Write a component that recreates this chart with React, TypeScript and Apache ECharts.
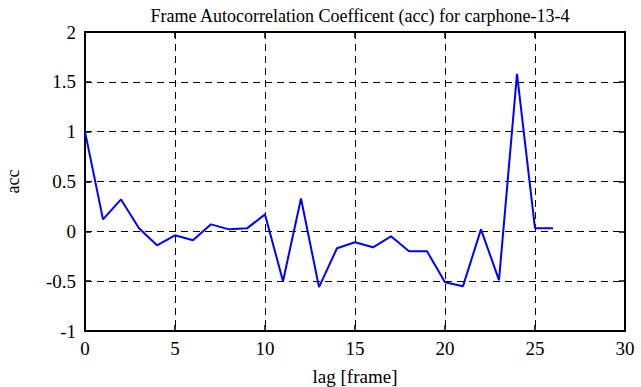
import React, { useEffect, useRef } from "react";
import * as echarts from "echarts";

const lags = [0, 1, 2, 3, 4, 5, 6, 7, 8, 9, 10, 11, 12, 13, 14, 15, 16, 17, 18, 19, 20, 21, 22, 23, 24, 25, 26];
const accValues = [1.0, 0.12, 0.32, 0.03, -0.14, -0.04, -0.09, 0.07, 0.02, 0.03, 0.17, -0.5, 0.33, -0.56, -0.17, -0.11, -0.16, -0.05, -0.2, -0.2, -0.51, -0.55, 0.02, -0.49, 1.58, 0.03, 0.03];
const titleText = "Frame Autocorrelation Coefficent (acc) for carphone-13-4";
const xName = "lag [frame]";
const yName = "acc";

const FONT = "Liberation Serif";

export default function App() {
  const ref = useRef<HTMLDivElement>(null);
  useEffect(() => {
    if (!ref.current) return;
    const chart = echarts.init(ref.current, undefined, { renderer: "svg" });
    const dash = { color: "#000", width: 1, type: [7, 5] as number[] };
    const axisLine = { show: true, onZero: false, lineStyle: { color: "#000", width: 2 } };
    const tick = { show: true, inside: true, length: 6, lineStyle: { color: "#000", width: 1.5 } };
    const labelStyle = { fontFamily: FONT, fontSize: 19, fontWeight: "normal", color: "#000" };
    chart.setOption({
      animation: false,
      backgroundColor: "#fff",
      textStyle: { fontFamily: FONT, fontWeight: "normal" },
      title: {
        text: titleText,
        left: 355,
        textAlign: "center",
        top: 2,
        textStyle: { fontFamily: FONT, fontSize: 18, fontWeight: "normal", color: "#000" },
      },
      grid: { left: 85, right: 16, top: 32, bottom: 56, containLabel: false, outerBoundsMode: "none" },
      xAxis: [
        {
          type: "value",
          min: 0,
          max: 30,
          interval: 5,
          position: "bottom",
          name: xName,
          nameLocation: "middle",
          nameGap: 36,
          nameTextStyle: { fontFamily: FONT, fontSize: 19, color: "#000" },
          axisLine,
          axisTick: tick,
          axisLabel: { ...labelStyle, margin: 8 },
          splitLine: { show: true, lineStyle: dash },
        },
        {
          type: "value",
          min: 0,
          max: 30,
          interval: 5,
          position: "top",
          axisLine,
          axisTick: tick,
          axisLabel: { show: false },
          splitLine: { show: false },
        },
      ],
      yAxis: [
        {
          type: "value",
          min: -1,
          max: 2,
          interval: 0.5,
          position: "left",
          name: yName,
          nameLocation: "middle",
          nameGap: 63,
          nameTextStyle: { fontFamily: FONT, fontSize: 18, color: "#000" },
          axisLine,
          axisTick: tick,
          axisLabel: { ...labelStyle, margin: 9 },
          splitLine: { show: true, lineStyle: dash },
        },
        {
          type: "value",
          min: -1,
          max: 2,
          interval: 0.5,
          position: "right",
          axisLine,
          axisTick: tick,
          axisLabel: { show: false },
          splitLine: { show: false },
        },
      ],
      series: [
        {
          type: "line",
          data: lags.map((l, i) => [l, accValues[i]]),
          showSymbol: false,
          symbol: "none",
          lineStyle: { color: "#0000ff", width: 2 },
          xAxisIndex: 0,
          yAxisIndex: 0,
        },
      ],
    });
    return () => chart.dispose();
  }, []);
  return <div ref={ref} style={{ width: 641, height: 387, position: "absolute", left: 0, top: 0 }} />;
}
